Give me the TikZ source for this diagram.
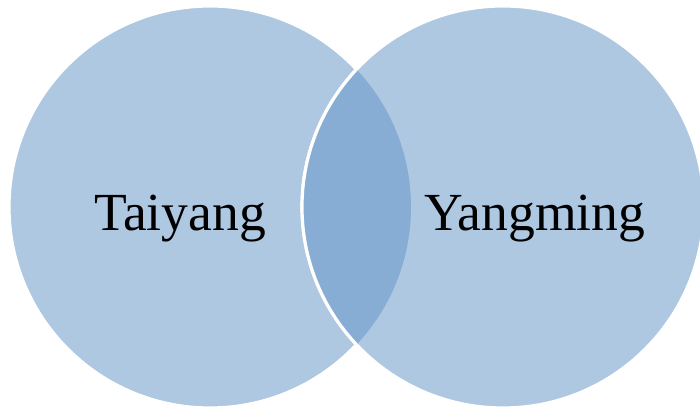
\documentclass[tikz,border=0pt]{standalone}
\usepackage{fontspec}
\setmainfont{Liberation Serif}
\definecolor{vennlight}{RGB}{174,200,225}
\definecolor{venndark}{RGB}{136,173,212}
\tikzset{
  vennset/.style={fill=vennlight, draw=white, line width=1.8pt},
  vennlabel/.style={anchor=base, inner sep=0pt, font=\fontsize{30.5}{36}\selectfont}
}

\begin{document}
\begin{tikzpicture}[x=0.02cm,y=0.02cm]
  \useasboundingbox (0,0) rectangle (700,411);
  \path[vennset] (210,204) circle (201);
  \path[vennset] (503,204) circle (201);
  \begin{scope}
    \clip (210,204) circle (201);
    \path[vennset, fill=venndark] (503,204) circle (201);
  \end{scope}

  \node[vennlabel] (taiyang) at (180,180) {Taiyang};
  \node[vennlabel] (yangming) at (535,180) {Yangming};
\end{tikzpicture}
\end{document}
